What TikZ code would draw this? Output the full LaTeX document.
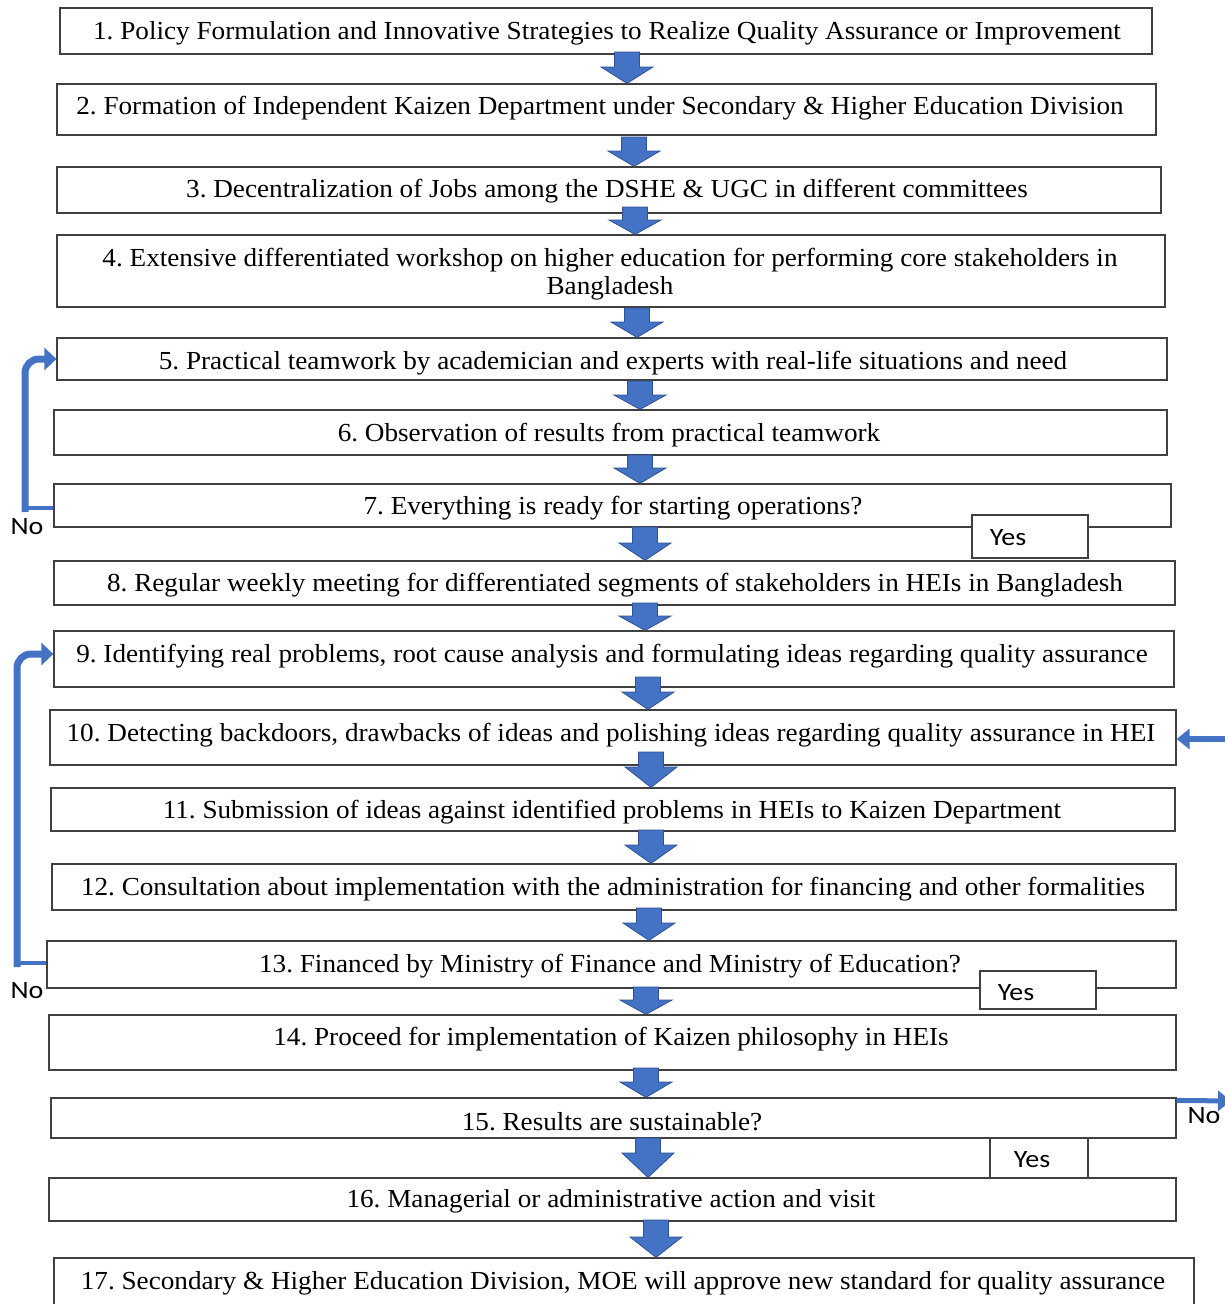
\documentclass[tikz,border=0pt]{standalone}
\usepackage{fontspec}
\setmainfont{Liberation Serif}
\newfontfamily\txtfont{Liberation Serif}[FakeStretch=1.045]
\newfontfamily\lblfont{Carlito}[FakeStretch=1.12]
\usetikzlibrary{fit,arrows.meta,calc}
\definecolor{ablue}{HTML}{4472C4}
\definecolor{dblue}{HTML}{2F528F}
\definecolor{bline}{HTML}{404040}
\frenchspacing
% #1 target node, #2 x, #3 top y, #4 head start y
\newcommand\blkarrow[4]{%
  \path let \p2=(#1.north) in
    [fill=ablue, draw=dblue, line width=0.8pt]
    (#2-12.5,#3) -- (#2+12.5,#3) -- (#2+12.5,#4) -- (#2+26,#4) --
    ({#2pt},\y2) -- (#2-26,#4) -- (#2-12.5,#4) -- cycle;}
\tikzset{
  box/.style={draw=bline, line width=1.2pt, inner sep=0pt},
  yesbox/.style={draw=bline, line width=1.2pt, inner sep=0pt, fill=white},
  txt/.style={font=\txtfont\frenchspacing\fontsize{26}{28}\selectfont, inner sep=0pt, align=center, yshift=-3pt},
  lbl/.style={font=\lblfont\fontsize{25}{27}\selectfont, inner sep=0pt},
  loopthin/.style={draw=ablue, line width=3.5pt},
  loopthick/.style={draw=ablue, line width=7pt, rounded corners=14pt, -{Triangle[length=12pt,width=22pt]}},
  rarrow/.style={draw=ablue, line width=6pt, -{Triangle[length=13pt,width=20pt]}}
}
\begin{document}
\begin{tikzpicture}[x=1pt,y=-1pt]
\useasboundingbox (0,0) rectangle (1225,1304);
% boxes
\node[box, fit={(60,8) (1152,54)}] (b1) {};
\node[box, fit={(57,84) (1156,135)}] (b2) {};
\node[box, fit={(57,167) (1161,213)}] (b3) {};
\node[box, fit={(57,235) (1165,307)}] (b4) {};
\node[box, fit={(57,338) (1167,380)}] (b5) {};
\node[box, fit={(54,410) (1167,455)}] (b6) {};
\node[box, fit={(54,484) (1171,527)}] (b7) {};
\node[box, fit={(54,561) (1175,605)}] (b8) {};
\node[box, fit={(54,631) (1174,687)}] (b9) {};
\node[box, fit={(50,710) (1176,765)}] (b10) {};
\node[box, fit={(51,788) (1175,831)}] (b11) {};
\node[box, fit={(52,864) (1176,910)}] (b12) {};
\node[box, fit={(47,941) (1176,988)}] (b13) {};
\node[box, fit={(49,1015) (1176,1070)}] (b14) {};
\node[box, fit={(51,1098) (1176,1138)}] (b15) {};
\node[box, fit={(49,1178) (1176,1221)}] (b16) {};
\node[box, fit={(54,1258) (1194,1320)}] (b17) {};
% yes boxes
\node[yesbox, fit={(972,515) (1088,558)}] (y1) {};
\node[yesbox, fit={(980,971) (1096,1009)}] (y2) {};
\node[yesbox, fit={(990,1138) (1088,1178)}] (y3) {};
% texts
\node[txt] (t1) at (607,30) {1. Policy Formulation and Innovative Strategies to Realize Quality Assurance or Improvement};
\node[txt] (t2) at (600,105) {2. Formation of Independent Kaizen Department under Secondary \& Higher Education Division};
\node[txt] (t3) at (607,188) {3. Decentralization of Jobs among the DSHE \& UGC in different committees};
\node[txt] (t4) at (610,271) {4. Extensive differentiated workshop on higher education for performing core stakeholders in\\Bangladesh};
\node[txt] (t5) at (613,360) {5. Practical teamwork by academician and experts with real-life situations and need};
\node[txt] (t6) at (609,432) {6. Observation of results from practical teamwork};
\node[txt] (t7) at (613,505) {7. Everything is ready for starting operations?};
\node[txt] (t8) at (615,582) {8. Regular weekly meeting for differentiated segments of stakeholders in HEIs in Bangladesh};
\node[txt] (t9) at (612,653) {9. Identifying real problems, root cause analysis and formulating ideas regarding quality assurance};
\node[txt] (t10) at (611,732) {10. Detecting backdoors, drawbacks of ideas and polishing ideas regarding quality assurance in HEI};
\node[txt] (t11) at (612,809) {11. Submission of ideas against identified problems in HEIs to Kaizen Department};
\node[txt] (t12) at (613,886) {12. Consultation about implementation with the administration for financing and other formalities};
\node[txt] (t13) at (610,963) {13. Financed by Ministry of Finance and Ministry of Education?};
\node[txt] (t14) at (611,1036) {14. Proceed for implementation of Kaizen philosophy in HEIs};
\node[txt] (t15) at (612,1119) {15. Results are sustainable?};
\node[txt] (t16) at (611,1198) {16. Managerial or administrative action and visit};
\node[txt] (t17) at (623,1280) {17. Secondary \& Higher Education Division, MOE will approve new standard for quality assurance};
% labels
\node[lbl] (yes1) at (1008,538) {Yes};
\node[lbl] (yes2) at (1016,993) {Yes};
\node[lbl] (yes3) at (1032,1160) {Yes};
\node[lbl] (no1) at (27,527) {No};
\node[lbl] (no2) at (27,991) {No};
\node[lbl] (no3) at (1204,1116) {No};
% block arrows
\blkarrow{b2}{627}{52}{67}
\blkarrow{b3}{634}{137}{151}
\blkarrow{b4}{635}{207}{220}
\blkarrow{b5}{637}{308}{322}
\blkarrow{b6}{640}{381}{395}
\blkarrow{b7}{640}{455}{468}
\blkarrow{b8}{645}{527}{543}
\blkarrow{b9}{645}{603}{616}
\blkarrow{b10}{648}{677}{692}
\blkarrow{b11}{651}{752}{767}
\blkarrow{b12}{651}{830}{845}
\blkarrow{b13}{649}{908}{923}
\blkarrow{b14}{646}{987}{1000}
\blkarrow{b15}{646}{1068}{1082}
\blkarrow{b16}{648}{1138}{1153}
\blkarrow{b17}{656}{1220}{1237}
% loops
\coordinate (l1b) at (25,508);
\coordinate (l1t) at (25,359);
\draw[loopthin] ([yshift=-2.5pt]b7.west) -- (l1b);
\draw[loopthick] ([yshift=-4pt]l1b) -- (l1t) -- (b5.west);
\coordinate (l2b) at (17,963);
\coordinate (l2t) at (17,654);
\draw[loopthin] ([yshift=1.5pt]b13.west) -- (l2b);
\draw[loopthick] ([yshift=-4pt]l2b) -- (l2t) -- ([yshift=5pt]b9.west);
\coordinate (r1) at (1240,739);
\draw[rarrow] (r1) -- ([yshift=-1.5pt]b10.east);
\coordinate (r2) at (1231,1101);
\draw[rarrow, line width=5pt] ([yshift=-3pt]b15.north east) -- (r2);
\end{tikzpicture}
\end{document}
